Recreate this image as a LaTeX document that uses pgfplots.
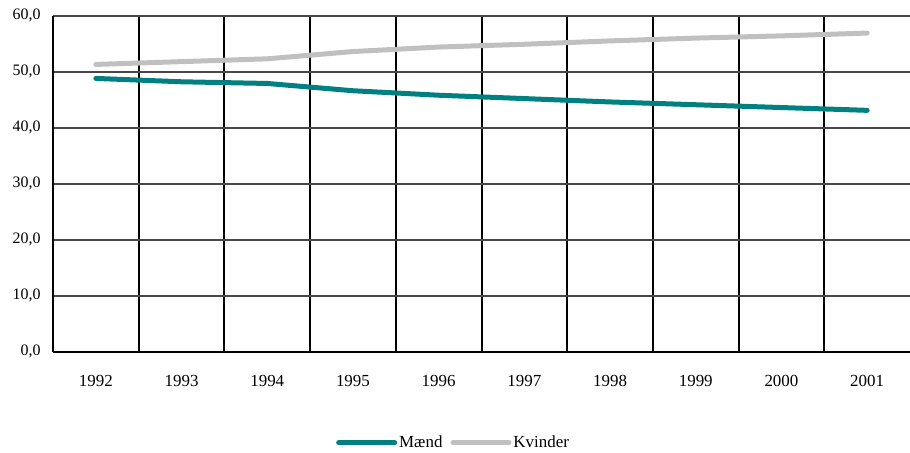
\documentclass[border=0pt]{standalone}
\usepackage{pgfplots}
\pgfplotsset{compat=1.18}
\usepackage{fontspec}
\setmainfont{Liberation Serif}
\definecolor{mcol}{HTML}{008080}
\definecolor{kcol}{HTML}{C0C0C0}
\begin{document}
\begin{tikzpicture}
\useasboundingbox (-53bp,-101.3bp) rectangle (857bp,351.7bp);
\begin{axis}[
  at={(0,0)}, anchor=south west,
  scale only axis, width=857bp, height=336bp,
  xmin=0.5, xmax=10.5, ymin=0, ymax=60,
  xtick={1,...,10},
  xticklabels={1992,1993,1994,1995,1996,1997,1998,1999,2000,2001},
  ytick={0,10,...,60},
  axis x line*=bottom, axis y line*=left,
  x axis line style={-, black, line width=2bp},
  y axis line style={-, black, line width=2bp},
  major tick length=0pt,
  ytick style={draw=none},
  xtick style={draw=none},
  minor xtick={0.5,1.5,...,9.5},
  tick align=outside,
  minor tick length=6bp,
  minor x tick style={black, line width=2bp},
  xminorgrids=true,
  minor x grid style={black, line width=2bp},
  ymajorgrids=true,
  major y grid style={black!72, line width=1.7bp},
  /pgf/number format/.cd, fixed, fixed zerofill, precision=1, use comma, assume math mode=true,
  /pgfplots/.cd,
  yticklabel style={font=\fontsize{16}{16}\selectfont, xshift=-9bp},
  xticklabel style={font=\fontsize{17}{17}\selectfont, yshift=-20bp},
  legend columns=2,
  legend style={at={(0.3302,-0.271)}, anchor=west, draw=none, inner sep=0pt,
    font=\fontsize{17}{17}\selectfont,
    nodes={inner sep=2bp},
    /tikz/every even column/.append style={column sep=6bp}},
  legend image code/.code={\draw[#1] (0bp,0bp) -- (56bp,0bp);},
]
\addplot[mcol, line width=5bp, line cap=round, line join=round] coordinates {
 (1,48.8) (2,48.2) (3,47.9) (4,46.6) (5,45.8) (6,45.2) (7,44.6) (8,44.1) (9,43.6) (10,43.1)};
\addlegendentry{Mænd}
\addplot[kcol, line width=5bp, line cap=round, line join=round] coordinates {
 (1,51.3) (2,51.8) (3,52.3) (4,53.6) (5,54.4) (6,54.9) (7,55.5) (8,56.0) (9,56.4) (10,56.9)};
\addlegendentry{Kvinder}
\end{axis}
\end{tikzpicture}
\end{document}
